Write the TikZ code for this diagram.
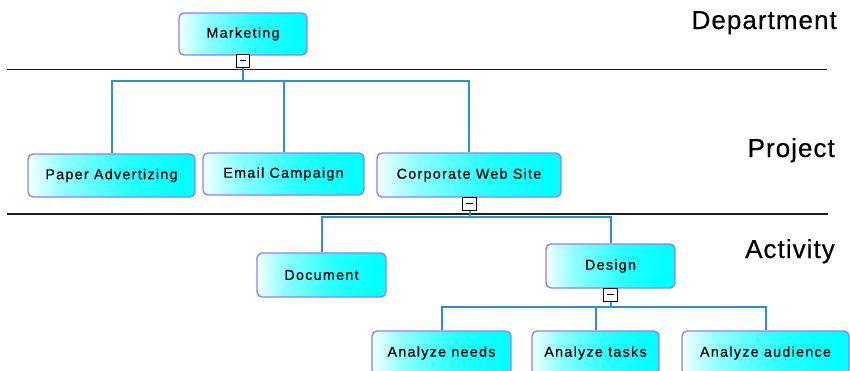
\documentclass[tikz,border=0pt]{standalone}
\usepackage{fontspec}
\setmainfont{Liberation Sans}
\newfontfamily\boxfont[LetterSpace=9, RawFeature={embolden=0.6}]{Liberation Sans}
\newfontfamily\levelfont[LetterSpace=4, RawFeature={embolden=0.4}]{Liberation Sans}
\definecolor{linkblue}{RGB}{45,145,205}
\definecolor{boxedge}{RGB}{140,128,255}
\definecolor{rulegray}{RGB}{30,30,30}

% pale on the left, full cyan on the right
\pgfdeclarehorizontalshading{entityfill}{100bp}{%
  color(0bp)=(cyan!5!white); color(25bp)=(cyan!5!white);
  color(36bp)=(cyan!45!white); color(55bp)=(cyan!85!white);
  color(72bp)=(cyan); color(100bp)=(cyan)}

\begin{document}
\begin{tikzpicture}[x=1pt,y=-1pt,
  entity/.style={draw=boxedge, line width=1.4pt, rounded corners=5pt,
    shade, shading=entityfill,
    inner sep=0pt, text=black, font=\boxfont\fontsize{14.3}{16}\selectfont},
  toggle/.style={draw=black, fill=white, line width=1.4pt,
    minimum width=13.5pt, minimum height=13.5pt, inner sep=0pt,
    path picture={\draw[line width=1.8pt]
      ([xshift=-3.4pt,yshift=0.6pt]path picture bounding box.center) --
      ([xshift=3.4pt,yshift=0.6pt]path picture bounding box.center);}},
  link/.style={draw=linkblue, line width=2pt},
  levelrule/.style={draw=rulegray, line width=1.4pt},
  levelname/.style={anchor=base east, inner sep=0pt,
    font=\levelfont\fontsize{26}{30}\selectfont}]

\useasboundingbox (0,0) rectangle (850,370);
\clip (0,0) rectangle (850,370);

% level separators
\coordinate (r1a) at (7,69.5);  \coordinate (r1b) at (827,69.5);
\coordinate (r2a) at (7,214);   \coordinate (r2b) at (828,214);
\draw[levelrule] (r1a) -- (r1b);
\draw[levelrule] (r2a) -- (r2b);

% level names
\node[levelname] (lvdep) at (837,29) {Department};
\node[levelname] (lvprj) at (835,157) {Project};
\node[levelname] (lvact) at (835,258) {Activity};

% entities
\node[entity, minimum width=128pt, minimum height=42pt] (mkt) at (243,34) {Marketing};
\node[entity, minimum width=167pt, minimum height=43pt] (paper) at (111.5,175.5) {Paper Advertizing};
\node[entity, minimum width=161pt, minimum height=42pt] (email) at (283.5,174) {Email Campaign};
\node[entity, minimum width=184pt, minimum height=44pt] (corp) at (469,175) {Corporate Web Site};
\node[entity, minimum width=129pt, minimum height=44pt] (doc) at (321.5,275) {Document};
\node[entity, minimum width=129pt, minimum height=44pt] (design) at (610.5,266) {Design};
\node[entity, minimum width=139pt, minimum height=44pt] (needs) at (441.5,353) {Analyze needs};
\node[entity, minimum width=127pt, minimum height=44pt] (tasks) at (595.5,353) {Analyze tasks};
\node[entity, minimum width=167pt, minimum height=44pt] (aud) at (765.5,353) {Analyze audience};

% tree buses
\coordinate (bus1) at (243,81);
\coordinate (bus2) at (469.5,217);
\coordinate (bus3) at (610.5,307);

% collapse toggles
\node[toggle] (mktc) at (243,61) {};
\node[toggle] (corpc) at (469.5,204) {};
\node[toggle] (designc) at (610.5,295) {};

\draw[link] (mktc.south) -- (bus1) -| (paper.north);
\draw[link] (mktc.south) -- (bus1) -| (email.north);
\draw[link] (mktc.south) -- (bus1) -| (corp.north);
\draw[link] (corpc.south) -- (bus2) -| (doc.north);
\draw[link] (corpc.south) -- (bus2) -| (design.north);
\draw[link] (designc.south) -- (bus3) -| (needs.north);
\draw[link] (designc.south) -- (bus3) -| (tasks.north);
\draw[link] (designc.south) -- (bus3) -| (aud.north);
\end{tikzpicture}
\end{document}
